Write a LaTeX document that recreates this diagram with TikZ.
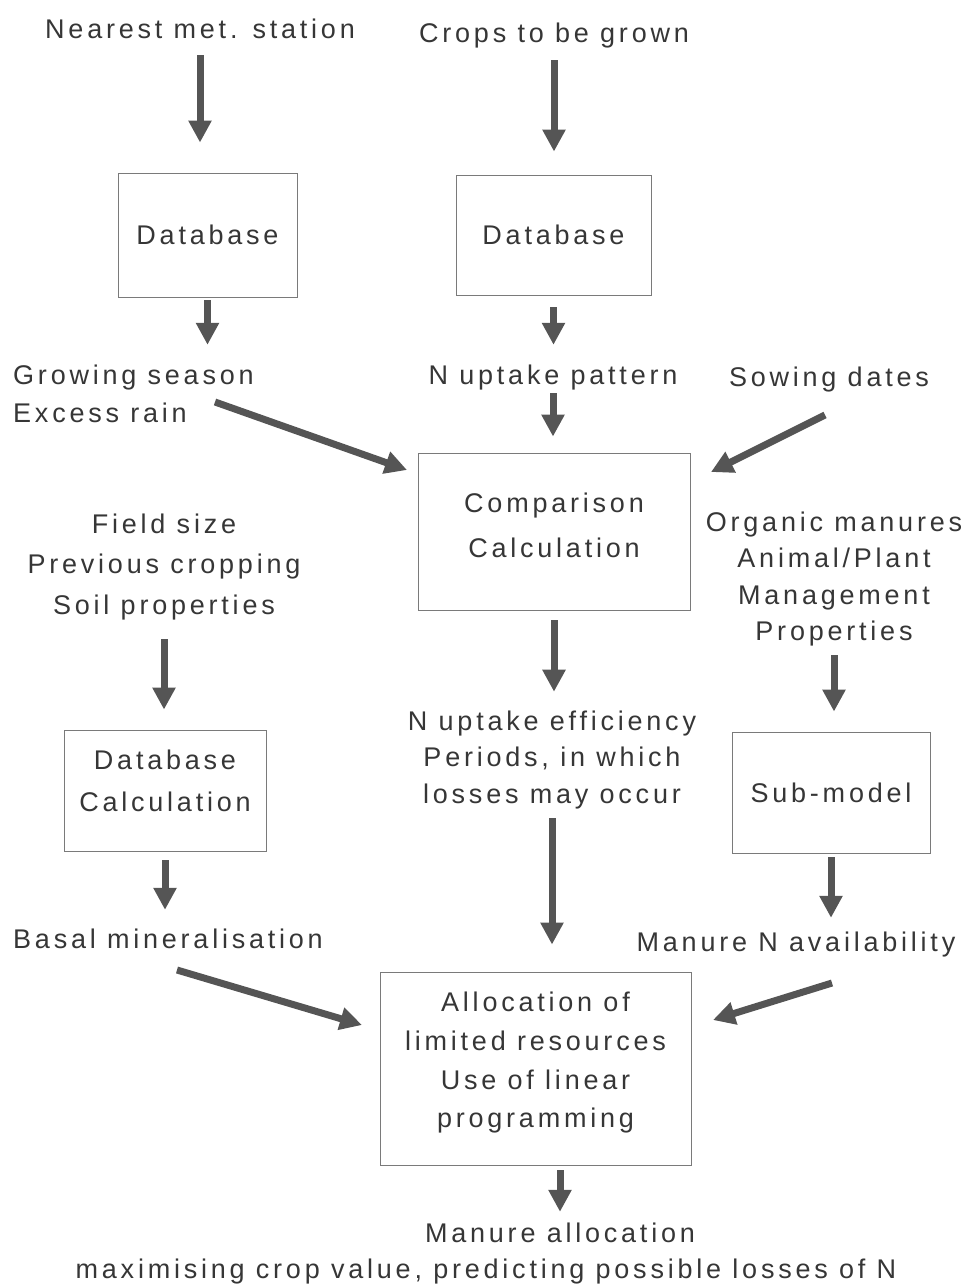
\documentclass[tikz,border=0pt]{standalone}
\usepackage{fontspec}
\setmainfont[LetterSpace=14]{Liberation Sans}
\usetikzlibrary{arrows.meta}

\definecolor{ink}{HTML}{363636}
\definecolor{arrowgrey}{HTML}{555555}
\definecolor{boxgrey}{HTML}{7A7A7A}

\newcommand\fsz[1]{\fontsize{27}{#1}\selectfont}

\begin{document}
\begin{tikzpicture}[x=1pt,y=-1pt,
  txt/.style={text=ink, font=\fsz{38}, align=center, inner sep=0pt},
  one/.style={txt, text height=19pt, text depth=5pt},
  box/.style={txt, draw=boxgrey, line width=0.9pt},
  arr/.style={draw=arrowgrey, line width=7pt,
    -{Triangle[length=22pt,width=22pt]}}]

  \useasboundingbox (0,0) rectangle (972,1286);

  % top row
  \node[one] (met)   at (200,31) {Nearest met. station};
  \node[one] (crops) at (554,35) {Crops to be grown};

  % databases
  \node[box, minimum width=179pt, minimum height=124pt] (db1) at (207.5,235) {Database};
  \node[box, minimum width=195pt, minimum height=120pt] (db2) at (553.5,235) {Database};

  % second row
  \node[one, anchor=west] (grow) at (13,377) {Growing season};
  \node[one, anchor=west] (rain) at (13,415) {Excess rain};
  \node[one] (upt) at (553,377) {N uptake pattern};
  \node[one] (sow) at (829,379) {Sowing dates};

  % comparison
  \node[box, minimum width=272pt, minimum height=157pt, font=\fsz{45},
    text depth=12pt] (cmp) at (554,531.5) {Comparison\\Calculation};

  % inputs beside the comparison
  \node[txt, font=\fsz{40.5}] (field) at (164,567) {Field size\\Previous cropping\\Soil properties};
  \node[txt, font=\fsz{36.3}] (org) at (834,579) {Organic manures\\Animal/Plant\\Management\\Properties};
  \node[txt, font=\fsz{36.5}] (eff) at (552,760) {N uptake efficiency\\Periods, in which\\losses may occur};

  % lower boxes
  \node[box, minimum width=202pt, minimum height=121pt, font=\fsz{42},
    text depth=20pt] (dbc) at (165,790.5) {Database\\Calculation};
  \node[box, minimum width=198pt, minimum height=121pt] (sub) at (831,792.5) {Sub-model};

  \node[one] (basal) at (168,941) {Basal mineralisation};
  \node[one] (mav)   at (796,944) {Manure N availability};

  % allocation
  \node[box, minimum width=311pt, minimum height=193pt, font=\fsz{38.7},
    text depth=17pt] (alloc) at (535.5,1068.5)
    {Allocation of\\limited resources\\Use of linear\\programming};

  \node[one] (outa) at (560,1235) {Manure allocation};
  \node[one] (outb) at (486,1271) {maximising crop value, predicting possible losses of N};

  % free ends of the slanted arrows
  \coordinate (rainout) at (215,402);
  \coordinate (cmpleft) at (407,470);
  \coordinate (sowout)  at (825,415);
  \coordinate (cmpright) at (711,472);
  \coordinate (basalout) at (177,970);
  \coordinate (allocleft) at (362,1025);
  \coordinate (mavout)  at (832,983);
  \coordinate (allocright) at (713,1020);

  % vertical arrows
  \draw[arr, shorten <=12pt, shorten >=30pt] (met.south) -- (met.south |- db1.north);
  \draw[arr, shorten <=13pt, shorten >=23pt] (crops.south) -- (crops.south |- db2.north);
  \draw[arr, shorten <=3pt, shorten >=20pt] (db1.south) -- (db1.south |- grow.north);
  \draw[arr, shorten <=12pt, shorten >=20pt] (db2.south) -- (db2.south |- upt.north);
  \draw[arr, shorten <=4pt, shorten >=16pt] (upt.south) -- (upt.south |- cmp.north);
  \draw[arr, shorten <=10pt, shorten >=19pt] (cmp.south) -- (cmp.south |- eff.north);
  \draw[arr, shorten <=19pt, shorten >=20pt] (field.south) -- (field.south |- dbc.north);
  \draw[arr, shorten <=9pt, shorten >=20pt] (org.south) -- (org.south |- sub.north);
  \draw[arr, shorten <=9pt, shorten >=19pt] (dbc.south) -- (dbc.south |- basal.north);
  \draw[arr, shorten <=9pt, shorten >=27pt] (eff.south) -- (eff.south |- alloc.north);
  \draw[arr, shorten <=4pt, shorten >=14pt] (sub.south) -- (sub.south |- mav.north);
  \draw[arr, shorten <=5pt, shorten >=11pt] (outa.north |- alloc.south) -- (outa.north);

  % slanted arrows
  \draw[arr] (rainout) -- (cmpleft);
  \draw[arr] (sowout) -- (cmpright);
  \draw[arr] (basalout) -- (allocleft);
  \draw[arr] (mavout) -- (allocright);

\end{tikzpicture}
\end{document}
